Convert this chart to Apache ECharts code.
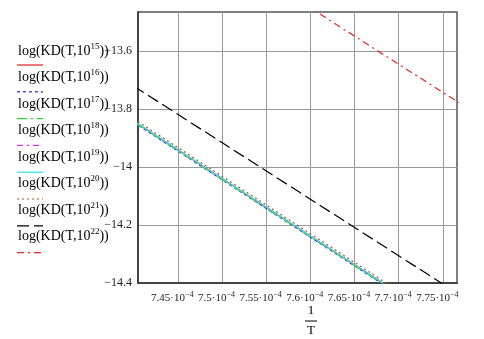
<!DOCTYPE html>
<html>
<head>
<meta charset="utf-8">
<script src="https://cdn.jsdelivr.net/npm/echarts@6/dist/echarts.min.js"></script>
<style>
  html, body { margin: 0; padding: 0; background: #fff; }
  #chart { width: 484px; height: 339px; }
</style>
</head>
<body>
<div id="chart"></div>
<script>
// 1/T in units of 10^-4
var invT = [7.40, 7.50, 7.60, 7.70, 7.80];

// log(KD(T, N)), one array per N
var kd15 = [-13.842, -14.040, -14.238, -14.436, -14.634];
var kd16 = [-13.846, -14.044, -14.242, -14.440, -14.638];
var kd17 = [-13.845, -14.043, -14.241, -14.439, -14.637];
var kd18 = [-13.842, -14.040, -14.238, -14.436, -14.634];
var kd19 = [-13.842, -14.040, -14.238, -14.436, -14.634];
var kd20 = [-13.834, -14.032, -14.230, -14.428, -14.626];
var kd21 = [-13.721, -13.916, -14.111, -14.306, -14.501];
var kd22 = [-13.064, -13.258, -13.452, -13.646, -13.840];

var exponents = ['15', '16', '17', '18', '19', '20', '21', '22'];
var values = [kd15, kd16, kd17, kd18, kd19, kd20, kd21, kd22];

// tick labels
var xTicks = [7.45, 7.50, 7.55, 7.60, 7.65, 7.70, 7.75];
var yTicks = [-14.4, -14.2, -14.0, -13.8, -13.6];

// line look of each curve (colour, dash)
var colors = ['#e02020', '#2a2ad0', '#30d030', '#e030e0', '#30e0e0', '#a0602a', '#000000', '#e02828'];
var dashes = ['solid', [3, 3], [10, 4, 2, 4], [6, 4, 2, 4], 'solid', [2, 3], [12, 5], [7, 4, 2, 4]];

var serif = '"Liberation Serif", "DejaVu Serif", serif';

function pairs(ys) {
  var out = [];
  for (var i = 0; i < invT.length; i++) {
    out.push([invT[i], ys[i]]);
  }
  return out;
}

var series = [];
for (var i = 0; i < values.length; i++) {
  series.push({
    name: 'log(KD(T,10^' + exponents[i] + '))',
    type: 'line',
    data: pairs(values[i]),
    showSymbol: false,
    symbol: 'none',
    clip: true,
    silent: true,
    lineStyle: { color: colors[i], width: 1.2, type: dashes[i] }
  });
}

// legend on the left: text with a line sample under it
var graphics = [];
for (var j = 0; j < exponents.length; j++) {
  var ty = 52 + 26.5 * j;
  var ly = 65 + 26.8 * j;
  graphics.push({
    type: 'text',
    left: 18,
    top: ty - 10,
    style: {
      text: '{b|log(KD(T,10}{s|' + exponents[j] + '}{b|))}',
      rich: {
        b: { fontFamily: serif, fontSize: 14, color: '#000', lineHeight: 18 },
        s: { fontFamily: serif, fontSize: 9, color: '#000', verticalAlign: 'top', lineHeight: 18 }
      }
    }
  });
  var dash = dashes[j] === 'solid' ? null : dashes[j];
  graphics.push({
    type: 'line',
    shape: { x1: 17, y1: ly, x2: 43, y2: ly },
    style: { stroke: colors[j], lineWidth: 1.2, lineDash: dash }
  });
}

// axis title 1/T as a fraction
graphics.push({
  type: 'text', x: 311, y: 310.5,
  style: { text: '1', fontFamily: serif, fontSize: 13, fill: '#000', align: 'center', verticalAlign: 'middle' }
});
graphics.push({
  type: 'line', shape: { x1: 305, y1: 321, x2: 317, y2: 321 },
  style: { stroke: '#000', lineWidth: 1 }
});
graphics.push({
  type: 'text', x: 311, y: 330.5,
  style: { text: 'T', fontFamily: serif, fontSize: 13, fill: '#000', align: 'center', verticalAlign: 'middle' }
});

var chart = echarts.init(document.getElementById('chart'));

chart.setOption({
  animation: false,
  backgroundColor: '#fff',
  grid: {
    left: 138, right: 27, top: 12, bottom: 56,
    show: true, borderColor: '#555', borderWidth: 1.5
  },
  xAxis: {
    type: 'value',
    min: 7.405,
    max: 7.766,
    axisLine: { show: true, onZero: false, lineStyle: { color: '#444', width: 2 } },
    axisTick: { show: false, customValues: xTicks },
    splitLine: { show: true, lineStyle: { color: '#999', width: 1 } },
    axisLabel: {
      customValues: xTicks,
      margin: 8,
      padding: [0, 11, 0, 0],
      formatter: function (v) {
        return '{m|' + String(Number(v.toFixed(2))) + '\u00b710}{s|\u22124}';
      },
      rich: {
        m: { fontFamily: serif, fontSize: 11, color: '#222', lineHeight: 14 },
        s: { fontFamily: serif, fontSize: 8, color: '#222', verticalAlign: 'top', lineHeight: 14 }
      }
    }
  },
  yAxis: {
    type: 'value',
    min: -14.4,
    max: -13.466,
    axisLine: { show: true, onZero: false, lineStyle: { color: '#444', width: 2 } },
    axisTick: { show: false, customValues: yTicks },
    splitLine: { show: true, lineStyle: { color: '#999', width: 1 } },
    axisLabel: {
      customValues: yTicks,
      margin: 6,
      fontFamily: serif,
      fontSize: 12,
      color: '#222',
      formatter: function (v) {
        return String(Number(v.toFixed(1))).replace('-', '\u2212');
      }
    }
  },
  graphic: graphics,
  series: series
});
</script>
</body>
</html>
